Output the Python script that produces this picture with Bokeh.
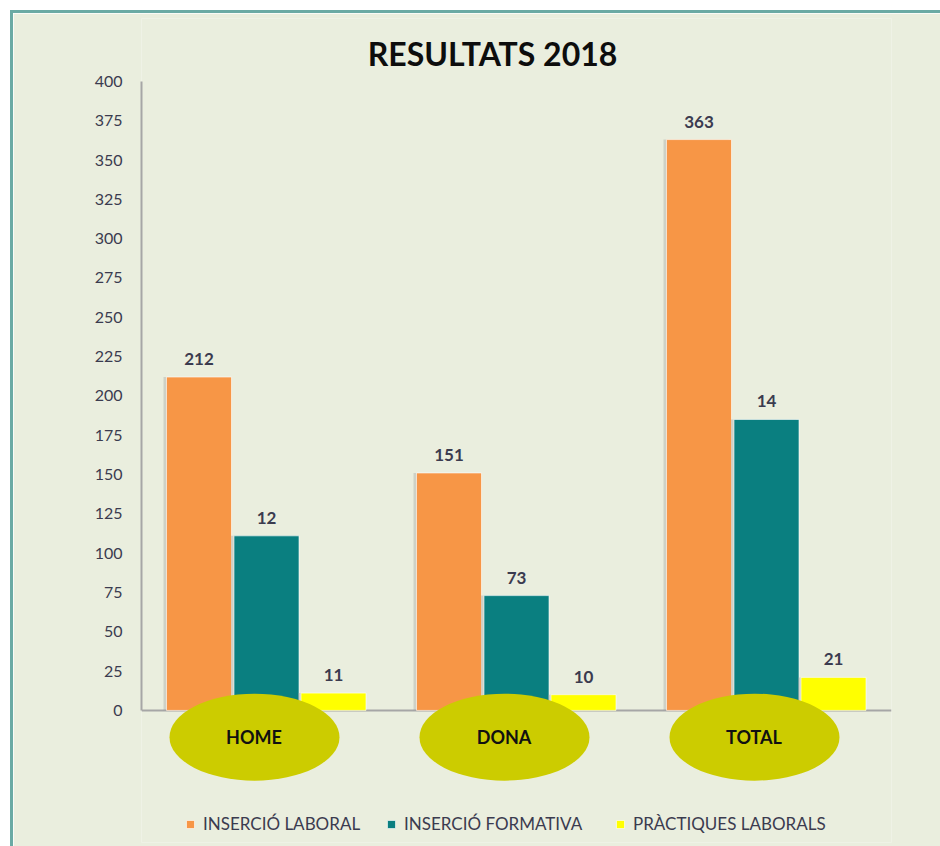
from bokeh.plotting import figure
from bokeh.models import (Range1d, FactorRange, ColumnDataSource, Span, Legend, LegendItem,
                          Label, FixedTicker)
from bokeh.transform import dodge
from bokeh.core.properties import value
from bokeh.embed import file_html
from bokeh.resources import INLINE

# ---- data ----
categories = ["HOME", "DONA", "TOTAL"]
series_names = ["INSERCIÓ LABORAL", "INSERCIÓ FORMATIVA", "PRÀCTIQUES LABORALS"]
insercio_laboral = [212, 151, 363]
insercio_formativa = [111, 73, 185]
practiques_laborals = [11, 10, 21]
# data labels as printed on the chart
label_laboral = ["212", "151", "363"]
label_formativa = ["12", "73", "14"]
label_practiques = ["11", "10", "21"]
y_ticks = list(range(0, 401, 25))
title_text = "RESULTATS 2018"

BG = "#EAEEDE"
ORANGE = "#F79646"
TEAL = "#0A7F80"
YELLOW = "#FFFF00"
ELLIPSE = "#CCCC00"
TXT = "#3B3B4F"

src = ColumnDataSource(dict(
    cat=categories,
    lab=insercio_laboral, form=insercio_formativa, prac=practiques_laborals,
    t_lab=label_laboral, t_form=label_formativa, t_prac=label_practiques,
))

p = figure(
    x_range=FactorRange(*categories, range_padding=0),
    y_range=Range1d(-84, 440),
    frame_width=750, frame_height=824,
    min_border_left=128, min_border_right=49, min_border_top=5, min_border_bottom=4,
    x_axis_location=None,
    output_backend="svg", toolbar_location=None,
    background_fill_color=BG, border_fill_color=BG,
)
p.styles = {"margin-left": "10px", "margin-top": "10px",
            "border-left": "3px solid #6BAAA4", "border-top": "3px solid #6BAAA4"}
p.outline_line_color = None
p.xgrid.visible = False
p.ygrid.visible = False

ax = p.yaxis[0]
ax.bounds = (0, 400)
ax.ticker = FixedTicker(ticks=y_ticks)
ax.axis_line_color = "#A6A6A6"
ax.axis_line_width = 2
ax.major_tick_line_color = None
ax.minor_tick_line_color = None
ax.major_tick_out = 0
ax.major_tick_in = 0
ax.major_label_standoff = 19
ax.major_label_text_font = "Lato"
ax.major_label_text_font_size = "16px"
ax.major_label_text_color = TXT

# x axis line at zero
p.add_layout(Span(location=0, dimension="width", line_color="#A6A6A6", line_width=2,
                  level="underlay"))

W = 0.26
offs = [-0.27, 0.0, 0.268]
cols = [ORANGE, TEAL, YELLOW]
fields = ["lab", "form", "prac"]
tfields = ["t_lab", "t_form", "t_prac"]
renderers = []
for off, col, f, tf in zip(offs, cols, fields, tfields):
    # soft shadow
    p.vbar(x=dodge("cat", off - 0.012, range=p.x_range), top=f, width=W, bottom=0,
           source=src, fill_color="#9A9A9A", fill_alpha=0.35, line_color=None)
    r = p.vbar(x=dodge("cat", off, range=p.x_range), top=f, width=W, bottom=0, source=src,
               fill_color=col, line_color="#FFFFFF", line_alpha=0.6, line_width=1)
    renderers.append(r)
    p.text(x=dodge("cat", off, range=p.x_range), y=f, text=tf, source=src,
           text_align="center", text_baseline="middle", y_offset=-18,
           text_font=value("Lato"), text_font_size="17px", text_color=TXT,
           text_font_style="bold")

# category ellipses
p.ellipse(x=dodge("cat", -0.048, range=p.x_range), y=-17, width=170, height=87,
          width_units="screen", height_units="screen", source=src,
          fill_color=ELLIPSE, line_color=None)
p.text(x=dodge("cat", -0.05, range=p.x_range), y=-17, text="cat", source=src,
       text_align="center", text_baseline="middle",
       text_font=value("Lato"), text_font_size="18px", text_font_style="bold",
       text_color="#111111")

# title
p.add_layout(Label(x=1.404, y=417.8, text=title_text, text_align="center",
                   text_baseline="middle", text_font="Lato", text_font_size="32px",
                   text_font_style="bold", text_color="#0D0D0D"))

leg_x = [44, 245, 474]
for n, r, lx in zip(series_names, renderers, leg_x):
    lg = Legend(items=[LegendItem(label=n, renderers=[r])],
                orientation="horizontal", location=(lx, 8),
                glyph_width=10, glyph_height=10, label_standoff=8, spacing=0,
                padding=0, margin=0, border_line_color=None, background_fill_alpha=0,
                label_text_font="Lato", label_text_font_size="17px", label_text_color=TXT,
                label_height=20)
    p.add_layout(lg)

open("out.html", "w").write(file_html(p, INLINE))
